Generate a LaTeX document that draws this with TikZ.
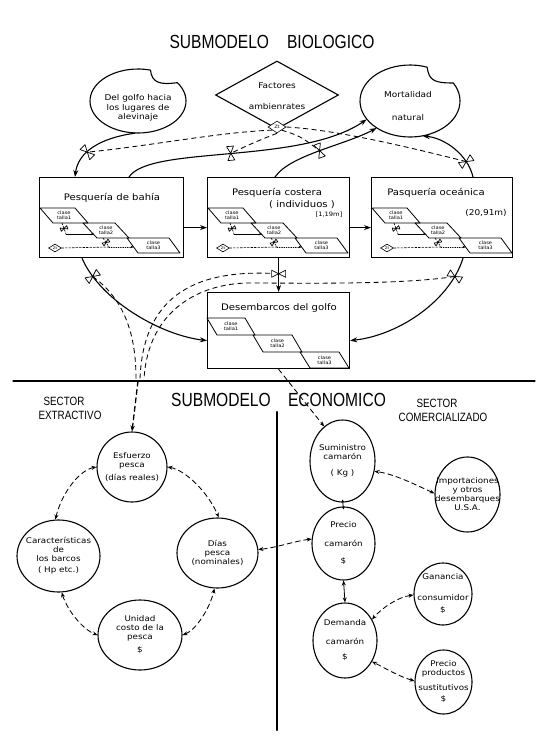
\documentclass[tikz,border=0pt]{standalone}
\usepackage{fontspec}
\setmainfont{DejaVu Sans}
\newfontfamily\handfont[FakeStretch=1.12]{DejaVu Sans}
\newfontfamily\ttlfont[FakeStretch=0.82]{Liberation Sans}
\usetikzlibrary{arrows.meta,shapes.geometric,calc}
\pgfdeclarelayer{background}
\pgfsetlayers{background,main}

\tikzset{
  valve/.pic={\draw[solid,-,line width=0.7pt,fill=white,line join=round]
      (0,0) -- (-3.5,7) -- (3.5,7) -- cycle (0,0) -- (-3.5,-7) -- (3.5,-7) -- cycle;},
  box/.style={draw, line width=1.2pt, inner sep=0pt},
  par/.style={line width=0.8pt, line join=round},
  circ/.style={draw, ellipse, line width=1.1pt, inner sep=0pt},
  ctext/.style={font=\handfont\fontsize{7.8}{9}\selectfont, align=center, inner sep=0pt},
  btitle/.style={font=\handfont\fontsize{9}{10}\selectfont, inner sep=0pt},
  btext/.style={font=\handfont\fontsize{8}{9.6}\selectfont, align=center, inner sep=0pt},
  tinyt/.style={font=\handfont\fontsize{4.6}{5.2}\selectfont, align=center, inner sep=0pt},
  smalld/.style={draw, diamond, line width=0.6pt, inner sep=0.2pt, fill=white,
      minimum width=13pt, minimum height=8pt, font=\handfont\fontsize{3.6}{4}\selectfont},
  flow/.style={line width=1.1pt, -{Stealth[length=7pt,width=5pt]}},
  info/.style={line width=0.85pt, dash pattern=on 5pt off 3.5pt},
  infoar/.style={info, {Stealth[length=5pt,width=4pt]}-{Stealth[length=5pt,width=4pt]}},
  infoa/.style={info, -{Stealth[length=5pt,width=4pt]}},
  innerd/.style={line width=0.6pt, dash pattern=on 2pt off 1.5pt},
  innerf/.style={line width=0.6pt, -{Stealth[length=3pt,width=2.5pt]}},
  innerdot/.style={line width=0.7pt, dash pattern=on 0.8pt off 1.5pt, -{Stealth[length=3pt,width=2.5pt]}},
  bigt/.style={font=\ttlfont\fontsize{19}{22}\selectfont, inner sep=0pt},
  sect/.style={font=\ttlfont\fontsize{12}{13}\selectfont, inner sep=0pt},
}

\newcommand\mycirc[6]{%
  \node[circ,minimum width=#4,minimum height=#5] (#1) at (#2,#3) {};
  \node[ctext] (#1-t) at (#1) {#6};}

\newcommand\tallasA[3]{%
\begin{scope}[shift={(#2,#3)}]
  \draw[par] (1,31) -- (36,31) -- (49,46) -- (14,46) -- cycle;
  \draw[par] (44,46) -- (76,46) -- (90,61) -- (58,61) -- cycle;
  \draw[par] (88,61) -- (130,61) -- (141,76) -- (99,76) -- cycle;
  \node[tinyt] (#1p1) at (25,38.5) {clase\\talla1};
  \node[tinyt] (#1p2) at (67,53.5) {clase\\talla2};
  \node[tinyt] (#1p3) at (114.5,68.5) {clase\\talla3};
  \coordinate (#1a1) at (23,46); \coordinate (#1a2) at (27,57); \coordinate (#1a3) at (55,57);
  \coordinate (#1c1) at (64,61); \coordinate (#1c2) at (70,70); \coordinate (#1c3) at (94.6,70);
  \draw[innerd] (#1a1) -- (#1a2);
  \draw[innerf] (#1a2) -- (#1a3);
  \draw[innerd] (#1c1) -- (#1c2);
  \draw[innerdot] (#1c2) -- (#1c3);
  \node[smalld] (#1d) at (16,71) {Zt};
  \draw[innerd] (#1d.east) -- (#1c2);
  \pic[rotate=-70,scale=0.5] at ($(#1a1)!0.5!(#1a2)$) {valve};
  \pic[rotate=-56,scale=0.5] at ($(#1c1)!0.5!(#1c2)$) {valve};
\end{scope}}

\newcommand\tallasB[3]{%
\begin{scope}[shift={(#2,#3)}]
  \draw[par] (0,26) -- (38,26) -- (48,43) -- (10,43) -- cycle;
  \draw[par] (46,43) -- (85,43) -- (95,60) -- (56,60) -- cycle;
  \draw[par] (93,60) -- (132,60) -- (142,76) -- (103,76) -- cycle;
  \node[tinyt] (#1p1) at (24,34.5) {clase\\talla1};
  \node[tinyt] (#1p2) at (70.5,51.5) {clase\\talla2};
  \node[tinyt] (#1p3) at (117.5,68) {clase\\talla3};
\end{scope}}

\begin{document}
\begin{tikzpicture}[x=1pt,y=-1pt,line cap=round]
\begin{pgfonlayer}{background}
\fill[white] (0,0) rectangle (550,746);
\end{pgfonlayer}
\useasboundingbox (0,0) rectangle (550,746);

% ---------------- titles
\node[bigt] (t1) at (272,42) {SUBMODELO\hspace{18pt}BIOLOGICO};
\node[bigt] (t2a) at (221,400) {SUBMODELO};
\node[bigt] (t2b) at (337,400) {ECONOMICO};
\node[sect] (s1a) at (64,401) {SECTOR};
\node[sect] (s1b) at (70,415) {EXTRACTIVO};
\node[sect] (s2a) at (437,403) {SECTOR};
\node[sect] (s2b) at (443,417) {COMERCIALIZADO};

% ---------------- blobs and diamond
\node[ellipse, minimum width=96, minimum height=64, inner sep=0pt] (blobL) at (138,101) {};
\draw[line width=1.1pt, line join=round] (138,101) ++(-35:48 and 32)
  arc[start angle=-35, end angle=285, x radius=48, y radius=32]
  .. controls (152,83) and (160,85) .. cycle;
\node[btext] (blobL-t) at (138,108) {Del golfo hacia\\los lugares de\\alevinaje};

\node[ellipse, minimum width=100, minimum height=72, inner sep=0pt] (mort) at (410,101) {};
\draw[line width=1.1pt, line join=round] (410,101) ++(-30:50 and 36)
  arc[start angle=-30, end angle=290, x radius=50, y radius=36]
  .. controls (429,81) and (435,83) .. cycle;
\node[btext] (mort-t) at (408,106) {Mortalidad\\[13pt]natural};

\node[draw, diamond, minimum width=123, minimum height=68, inner sep=0pt, line width=1.1pt] (fact) at (277,95) {};
\node[btext] (fact-t) at (277,96) {Factores\\[12pt]ambienrates};
\node[smalld, minimum width=18pt, minimum height=12pt, font=\handfont\fontsize{4.5}{5}\selectfont] (sd0) at (277,127) {Zt};

% ---------------- stock boxes
\node[box, minimum width=144, minimum height=80, anchor=north west] (b1) at (39,177) {};
\node[box, minimum width=142, minimum height=80, anchor=north west] (b2) at (207,177) {};
\node[box, minimum width=141, minimum height=80, anchor=north west] (b3) at (371,177) {};
\node[box, minimum width=142, minimum height=76, anchor=north west] (b4) at (207,292) {};

\node[btitle] (b1-t) at (112,198) {Pesquería de bahía};
\node[btitle] (b2-t) at (277,193) {Pesquería costera};
\node[btitle] (b2-t2) at (302,205) {( individuos )};
\node[btitle, font=\handfont\fontsize{6}{7}\selectfont] (b2-t3) at (329,215) {[1,19m]};
\node[btitle] (b3-t) at (436,193) {Pasquería oceánica};
\node[btitle, font=\handfont\fontsize{8}{9}\selectfont] (b3-t2) at (486,213) {(20,91m)};
\node[btitle] (b4-t) at (279,308) {Desembarcos del golfo};

\tallasA{q1}{39}{177}
\tallasA{q2}{207}{177}
\tallasA{q3}{371}{177}
\tallasB{q4}{207}{292}

% ---------------- material flows
\draw[flow] (blobL.265) .. controls (100,138) and (78,152) .. ($(b1.north west)+(36,0)$)
  coordinate[pos=0.6] (v1) pic[pos=0.6,sloped]{valve};
\draw[flow] ($(b1.north west)+(90,0)$) .. controls (150,145) and (300,165) .. (mort.203)
  coordinate[pos=0.5] (v2) pic[pos=0.5,sloped]{valve};
\draw[flow] ($(b2.north west)+(68,0)$) .. controls (290,155) and (345,145) .. (mort.219)
  coordinate[pos=0.5] (v3) pic[pos=0.5,sloped]{valve};
\draw[flow] ($(b3.north west)+(102,0)$) .. controls (468,155) and (445,138) .. (mort.290)
  coordinate[pos=0.25] (v4) pic[pos=0.25,sloped]{valve};
\draw[flow] ($(b1.east)+(0,10)$) -- ($(b2.west)+(0,10)$);
\draw[flow] ($(b2.east)+(0,10)$) -- ($(b3.west)+(0,10)$);
\draw[flow] ($(b1.south west)+(43,0)$) .. controls (100,300) and (160,335) .. ($(b4.west)+(0,10)$)
  coordinate[pos=0.15] (v5) pic[pos=0.15,sloped]{valve};
\draw[flow] (b2.south) -- (b4.north)
  coordinate[pos=0.46] (v6) pic[pos=0.46,sloped]{valve};
\draw[flow] ($(b3.south west)+(92,0)$) .. controls (450,300) and (400,335) .. ($(b4.east)+(0,10)$)
  coordinate[pos=0.15] (v7) pic[pos=0.15,sloped]{valve};

% ---------------- information links (behind valves)
\coordinate (cv5) at (136,379);
\coordinate (cv7) at (140,379);
\coordinate (cv6) at (144,379);
\coordinate (conv) at (138,381);
\begin{pgfonlayer}{background}
\draw[info] (sd0.south west) .. controls (220,132) and (150,146) .. (v1);
\draw[info] (sd0.south) .. controls (255,142) .. (v2);
\draw[info] (sd0.south east) .. controls (300,136) .. (v3);
\draw[info] (sd0.east) .. controls (340,130) and (420,150) .. (v4);
\draw[info] (v5) .. controls (125,300) and (136,335) .. (cv5);
\draw[info] (v6) .. controls (190,268) and (143,300) .. (cv7);
\draw[info] (v7) .. controls (400,285) and (300,283) .. (250,283)
  .. controls (200,283) and (148,310) .. (cv6);
\end{pgfonlayer}

% ---------------- separators
\coordinate (hl1) at (13,381);
\coordinate (hl2) at (535,381);
\draw[line width=1.3pt] (hl1) -- (hl2);
\coordinate (vl1) at (277,412);
\coordinate (vl2) at (277,730);
\draw[line width=2.2pt] (vl1) -- (vl2);

% ---------------- economic submodel
\mycirc{esf}{132}{467}{70}{70}{Esfuerzo\\pesca\\[4pt](días reales)}
\mycirc{dias}{217.5}{553}{81}{70}{Días\\pesca\\(nominales)}
\mycirc{car}{58.5}{556}{83}{72}{Características\\de\\los barcos\\[2pt]( Hp etc.)}
\mycirc{uni}{140}{635}{84}{70}{Unidad\\costo de la\\pesca\\[4pt]\$}
\mycirc{sum}{342.5}{461}{65}{82}{Suministro\\camarón\\[7pt]( Kg )}
\mycirc{imp}{467.5}{494.5}{65}{75}{Importaciones\\y otros\\desembarques\\U.S.A.}
\mycirc{prec}{343.5}{543.5}{63}{73}{Precio\\[10pt]camarón\\[8pt]\$}
\mycirc{gan}{443}{594}{58}{62}{Ganancia\\[12pt]consumidor\\[3pt]\$}
\mycirc{dem}{345}{640.5}{64}{75}{Demanda\\[10pt]camarón\\[6pt]\$}
\mycirc{prod}{443.5}{682}{57}{64}{Precio\\productos\\[6pt]sustitutivos\\[2pt]\$}

\draw[info, line width=1.3pt, -{Stealth[length=6pt,width=4.5pt]}] (conv) -- (esf.north);
\draw[infoar] (esf.west) .. controls (80,470) and (62,492) .. (car.95);
\draw[infoar] (esf.east) .. controls (185,470) and (208,492) .. (dias.88);
\draw[infoar] (car.-85) .. controls (68,612) and (84,630) .. (uni.west);
\draw[infoar] (uni.east) .. controls (196,630) and (210,608) .. (dias.-95);
\draw[infoar] (prec.172) .. controls (295,541) and (275,548) .. (dias.5);
\draw[infoa] (b4.south) -- (sum.118);
\draw[infoar] (imp.178) .. controls (418,486) and (395,474) .. (sum.-18);
\draw[line width=0.8pt, {Stealth[length=3pt,width=3pt]}-{Stealth[length=3pt,width=3pt]}]
  ($(sum.south)+(0,-3)$) -- ($(prec.north)+(0,3)$);
\draw[line width=0.8pt, {Stealth[length=5pt,width=4pt]}-{Stealth[length=5pt,width=4pt]}]
  (prec.south) -- (dem.north);
\draw[infoar] (gan.182) .. controls (398,597) and (382,608) .. (dem.38);
\draw[infoar] (prod.178) .. controls (398,676) and (385,668) .. (dem.-38);

\end{tikzpicture}
\end{document}
